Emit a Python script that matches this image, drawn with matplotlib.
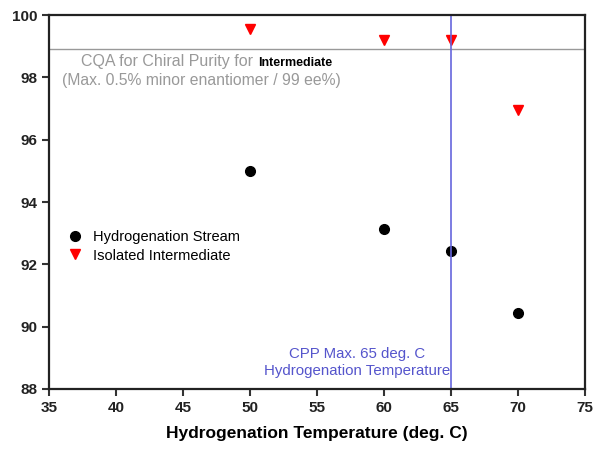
import matplotlib.pyplot as plt

plt.rcParams['font.family'] = ['Liberation Sans', 'DejaVu Sans']

temps = [50, 60, 65, 70]
stream_purity = [95.0, 93.14, 92.43, 90.43]
isolated_purity = [99.55, 99.2, 99.2, 96.95]
cqa_limit = 98.9
cpp_max = 65

fig = plt.figure(figsize=(6.03, 4.51), dpi=100)
ax = fig.add_axes([0.081, 0.1375, 0.889, 0.829])

ax.plot(temps, stream_purity, 'o', color='black', markersize=7, label='Hydrogenation Stream')
ax.plot(temps, isolated_purity, 'v', color='red', markersize=7, label='Isolated Intermediate')

ax.axhline(cqa_limit, color='#999999', lw=1)
ax.axvline(cpp_max, color='#6666dd', lw=1.2)

ax.set_xlim(35, 75)
ax.set_ylim(88, 100)
ax.set_xticks(range(35, 80, 5))
ax.set_yticks(range(88, 101, 2))
for lbl in ax.get_xticklabels() + ax.get_yticklabels():
    lbl.set_fontweight('bold')
    lbl.set_color('#222222')
ax.tick_params(labelsize=11, width=1.5, length=5, color='#333333')
for s in ax.spines.values():
    s.set_linewidth(1.6)
    s.set_color('#222222')

ax.set_xlabel('Hydrogenation Temperature (deg. C)', fontsize=12.5, fontweight='bold', labelpad=8)

t1 = ax.text(37.4, 98.36, 'CQA for Chiral Purity for', color='#999999', fontsize=11.5, va='baseline')
ax.annotate('Intermediate', xy=(1, 0), xycoords=t1, xytext=(4, 0), textcoords='offset points',
            color='black', fontsize=9, fontweight='bold', va='bottom')
ax.text(36.0, 97.76, '(Max. 0.5% minor enantiomer / 99 ee%)', color='#999999', fontsize=11.3, va='baseline')

ax.text(58.0, 88.86, 'CPP Max. 65 deg. C\nHydrogenation Temperature', color='#5555cc',
        fontsize=10.8, ha='center', va='center', linespacing=1.25)

ax.legend(loc='upper left', bbox_to_anchor=(0.008, 0.46), frameon=False, fontsize=10.5,
          handletextpad=0.6, labelspacing=0.3, handlelength=1.2)

fig.savefig('out.png', dpi=100)
